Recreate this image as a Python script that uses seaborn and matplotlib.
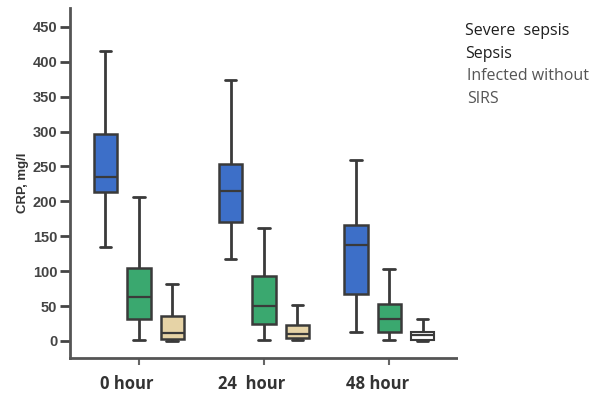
import numpy as np
import pandas as pd
import matplotlib
matplotlib.use("Agg")
import matplotlib.pyplot as plt
import seaborn as sns

times = ["0 hour", "24  hour", "48 hour"]
groups = ["Severe  sepsis", "Sepsis", "Infected without SIRS"]
# five-number summaries: min, q1, median, q3, max (CRP, mg/l)
severe = [[134, 214, 235, 297, 416], [118, 170, 215, 254, 374], [13, 67, 137, 166, 259]]
sepsis = [[1.5, 31, 63, 105, 206], [1.5, 24, 50, 93, 162], [1.5, 12.5, 31, 53, 103]]
infected = [[0, 3, 12, 36, 81], [2, 4, 10, 23, 51], [0.5, 1.5, 8, 13, 32]]
yticks = [0, 50, 100, 150, 200, 250, 300, 350, 400, 450]

rows = []
for g, series in zip(groups, [severe, sepsis, infected]):
    for t, vals in zip(times, series):
        for v in vals:
            rows.append({"time": t, "group": g, "crp": v})
df = pd.DataFrame(rows)

sns.set_style("white")
plt.rcParams['font.family'] = ['Open Sans', 'DejaVu Sans']

fig = plt.figure(figsize=(5.98, 3.98), dpi=100)
ax = fig.add_axes([0.117, 0.1005, 0.649, 0.8795])

palette = {"Severe  sepsis": "#3d6fc8", "Sepsis": "#3aa86f", "Infected without SIRS": "#e6d3a6"}
edge = "#3a3a3a"
sns.boxplot(data=df, x="time", y="crp", hue="group", order=times, hue_order=groups,
            palette=palette, whis=(0, 100), width=0.8, gap=0.3, saturation=1,
            linewidth=1.8, linecolor=edge, legend=False, ax=ax,
            capprops=dict(linewidth=2), whiskerprops=dict(linewidth=2),
            medianprops=dict(linewidth=1.6))

# the 48 hour "infected" box is white in the reference
for p in ax.patches:
    try:
        verts = p.get_path().vertices
    except Exception:
        continue
    if len(verts) and verts[:, 0].mean() > 2.1:
        p.set_facecolor("white")
        p.set_linewidth(1.5)

ax.set_ylim(-24.4, 477)
ax.set_xlim(-0.55, 2.55)
ax.set_yticks(yticks)
ax.set_yticklabels([str(v) for v in yticks], fontweight="bold", color="#444444", fontsize=10.5,
                   family=['Liberation Sans', 'DejaVu Sans'])
ax.set_xticks(range(len(times)))
ax.set_xticklabels([""] * len(times))
# category labels sit a little left of their ticks in the reference
for i, t in enumerate(times):
    ax.text(i - 0.096, -0.075, t, transform=ax.get_xaxis_transform(), ha="center", va="center",
            fontweight="bold", color="#333333", fontsize=12)
ax.tick_params(axis="y", length=7, width=2, color="#444444", left=True, pad=2)
ax.tick_params(axis="x", length=5, width=1.5, color="#666666", bottom=True)
ax.set_xlabel("")
ax.set_ylabel("CRP, mg/l", fontweight="bold", fontsize=9.5, color="#333333",
              family=['Liberation Sans', 'DejaVu Sans'], labelpad=3)
for s in ["top", "right"]:
    ax.spines[s].set_visible(False)
for s in ["left", "bottom"]:
    ax.spines[s].set_color("#555555")
    ax.spines[s].set_linewidth(2)
    ax.spines[s].set_linestyle((0, (6, 1)))

fig.text(0.778, 0.922, "Severe  sepsis", fontsize=11.5, color="#1e1e1e", va="center")
fig.text(0.778, 0.865, "Sepsis", fontsize=11.5, color="#1e1e1e", va="center")
fig.text(0.781, 0.810, "Infected without", fontsize=11.5, color="#555555", va="center")
fig.text(0.781, 0.752, "SIRS", fontsize=11.5, color="#555555", va="center")

fig.savefig("out.png", dpi=100)
